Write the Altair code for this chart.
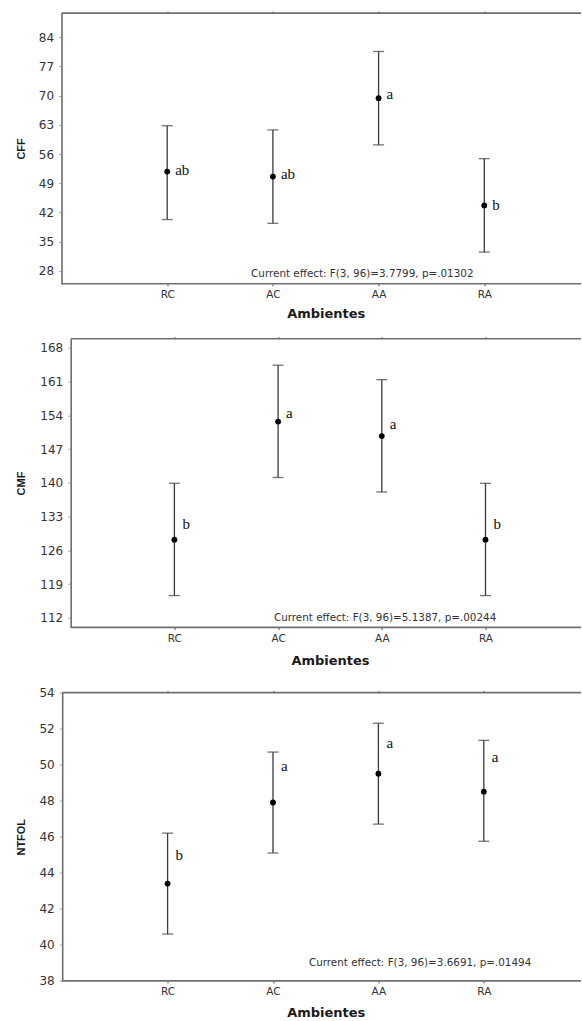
import altair as alt
import pandas as pd

categories = ["RC", "AC", "AA", "RA"]

cff_mean = [51.8, 50.6, 69.4, 43.7]
cff_upper = [62.8, 61.8, 80.6, 54.9]
cff_lower = [40.3, 39.4, 58.2, 32.5]
cff_letters = ["ab", "ab", "a", "b"]
cff_letter_y = [52.2, 51.2, 70.3, 43.7]
cff_ticks = [28, 35, 42, 49, 56, 63, 70, 77, 84]
cff_effect = "Current effect: F(3, 96)=3.7799, p=.01302"

cmf_mean = [128.2, 152.7, 149.7, 128.2]
cmf_upper = [139.9, 164.4, 161.4, 139.9]
cmf_lower = [116.6, 141.1, 138.1, 116.6]
cmf_letters = ["b", "a", "a", "b"]
cmf_letter_y = [131.4, 154.5, 152.2, 131.4]
cmf_ticks = [112, 119, 126, 133, 140, 147, 154, 161, 168]
cmf_effect = "Current effect: F(3, 96)=5.1387, p=.00244"

ntfol_mean = [43.4, 47.9, 49.5, 48.5]
ntfol_upper = [46.2, 50.7, 52.3, 51.35]
ntfol_lower = [40.6, 45.1, 46.7, 45.75]
ntfol_letters = ["b", "a", "a", "a"]
ntfol_letter_y = [45.0, 49.9, 51.2, 50.4]
ntfol_ticks = [38, 40, 42, 44, 46, 48, 50, 52, 54]
ntfol_effect = "Current effect: F(3, 96)=3.6691, p=.01494"

SANS = "DejaVu Sans"
FRAME = "#6f6f6f"
BAR = "#3a3a3a"
WIDTH = 519.5


def panel(mean, lower, upper, letters, letter_y, ytitle, ydomain, yticks, effect,
          height, step, shift, ext_x, ann_x, ann_y):
    df = pd.DataFrame({
        "pos": list(range(1, len(categories) + 1)),
        "cat": categories,
        "mean": mean,
        "lower": lower,
        "upper": upper,
        "letter": letters,
        "ly": letter_y,
    })
    label_expr = "[" + ",".join("'%s'" % c for c in categories) + "][datum.value - 1]"
    x0 = -shift / step
    x1 = (WIDTH - shift) / step
    xscale = alt.Scale(domain=[x0, x1], nice=False, zero=False)
    yscale = alt.Scale(domain=ydomain, nice=False, zero=False)

    x_bottom_axis = alt.Axis(
        orient="bottom", values=[1, 2, 3, 4], labelExpr=label_expr, title="Ambientes",
        grid=False, tickSize=2, tickColor="#444", labelPadding=4,
        labelFont=SANS, labelFontSize=10.5, labelColor="#333",
        titleFont=SANS, titleFontSize=13, titleFontWeight="bold", titleColor="#1a1a1a",
        titlePadding=0, minExtent=ext_x, maxExtent=ext_x,
        titleX=shift + 2.5 * step,
        domain=False,
    )
    x_top_axis = alt.Axis(
        orient="top", values=[1, 2, 3, 4], labels=False, title=None, grid=False,
        tickSize=2, tickColor="#444", domain=False, minExtent=0, maxExtent=0,
    )
    y_axis = alt.Axis(
        values=yticks, title=ytitle, grid=False, tickSize=3, tickColor="#aaaaaa",
        labelPadding=5, labelFont=SANS, labelFontSize=12, labelColor="#333",
        titleFont="Liberation Sans", titleFontSize=11, titleFontWeight="bold",
        titleColor="#1a1a1a", titlePadding=0, minExtent=35 + shift, maxExtent=35 + shift,
        offset=-shift, domainColor=FRAME, domainWidth=1.6,
    )

    base = alt.Chart(df)
    frame_df = pd.DataFrame({"k": [0]})
    top_line = alt.Chart(frame_df).mark_rule(color=FRAME, strokeWidth=1.6).encode(
        x=alt.value(shift), x2=alt.value(WIDTH), y=alt.value(0)
    )
    bottom_line = alt.Chart(frame_df).mark_rule(color=FRAME, strokeWidth=1.6).encode(
        x=alt.value(shift), x2=alt.value(WIDTH), y=alt.value(height)
    )
    bars = base.mark_rule(color=BAR, strokeWidth=1.3).encode(
        x=alt.X("pos:Q", scale=xscale, axis=x_bottom_axis),
        y=alt.Y("lower:Q", scale=yscale, axis=y_axis),
        y2="upper:Q",
    )
    cap_hi = base.mark_tick(orient="horizontal", size=11, thickness=1.3, color=BAR).encode(
        x=alt.X("pos:Q", scale=xscale, axis=x_top_axis),
        y=alt.Y("upper:Q", scale=yscale, axis=y_axis),
    )
    cap_lo = base.mark_tick(orient="horizontal", size=11, thickness=1.3, color=BAR).encode(
        x=alt.X("pos:Q", scale=xscale, axis=None),
        y=alt.Y("lower:Q", scale=yscale, axis=y_axis),
    )
    pts = base.mark_circle(size=34, color="black", opacity=1).encode(
        x=alt.X("pos:Q", scale=xscale, axis=None),
        y=alt.Y("mean:Q", scale=yscale, axis=y_axis),
    )
    lets = base.mark_text(align="left", baseline="middle", dx=8, font="Liberation Serif",
                          fontSize=15, color="#111").encode(
        x=alt.X("pos:Q", scale=xscale, axis=None),
        y=alt.Y("ly:Q", scale=yscale, axis=y_axis),
        text="letter:N",
    )
    ann = alt.Chart(pd.DataFrame({"t": [effect]})).mark_text(
        align="left", baseline="middle", font=SANS, fontSize=10.4, color="#333"
    ).encode(x=alt.value(ann_x), y=alt.value(ann_y), text="t:N")

    return alt.layer(top_line, bottom_line, bars, cap_hi, cap_lo, pts, lets, ann).resolve_axis(
        x="independent"
    ).properties(width=WIDTH, height=height)


top = panel(cff_mean, cff_lower, cff_upper, cff_letters, cff_letter_y, "CFF",
            [24.9, 89.8], cff_ticks, cff_effect, 270.7, 105.7, 0, 24, 189.6, 261)
mid = panel(cmf_mean, cmf_lower, cmf_upper, cmf_letters, cmf_letter_y, "CMF",
            [110, 169.9], cmf_ticks, cmf_effect, 288.7, 103.7, 9.2, 26.7, 212.4, 279.4)
bot = panel(ntfol_mean, ntfol_lower, ntfol_upper, ntfol_letters, ntfol_letter_y, "NTFOL",
            [38, 54], ntfol_ticks, ntfol_effect, 288.3, 105.4, 0.7, 25.7, 247.4, 270.6)

inner = alt.vconcat(mid, bot, spacing=18.9)
chart = alt.vconcat(top, inner, spacing=14.6).properties(
    padding={"left": 15.5, "top": 10.1, "right": 0, "bottom": 0},
    background="white",
).configure_view(stroke=None, strokeWidth=0)

chart.save("out.html", embed_options={"renderer": "svg", "actions": False})
